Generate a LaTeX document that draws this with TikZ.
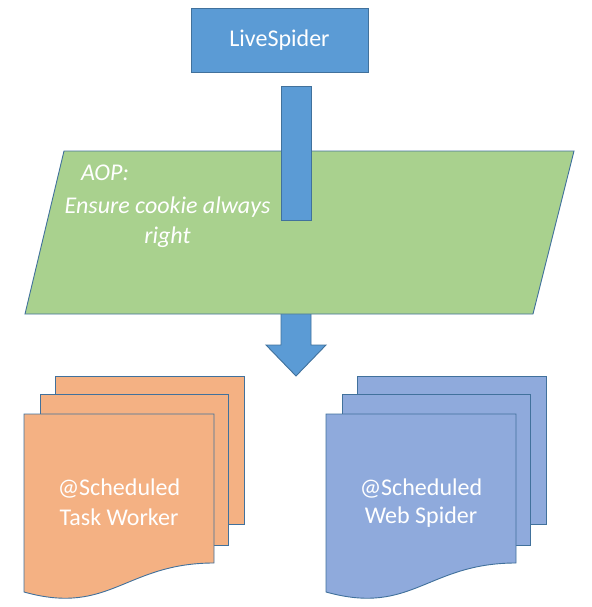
\documentclass[tikz,border=0pt]{standalone}
\usepackage{fontspec}
\setmainfont{Carlito}
\definecolor{lsblue}{HTML}{5B9BD5}
\definecolor{edgeblue}{HTML}{41719C}
\definecolor{aopgreen}{HTML}{A9D18E}
\definecolor{docorange}{HTML}{F4B183}
\definecolor{docblue}{HTML}{8FAADC}
\begin{document}
\begin{tikzpicture}[x=1pt,y=-1pt,
  box/.style={fill=lsblue,draw=edgeblue,line width=0.9pt},
  para/.style={fill=aopgreen,draw=edgeblue,line width=0.9pt},
  page/.style={draw=edgeblue,line width=0.9pt},
  txt/.style={text=white,font=\fontsize{24}{28}\selectfont,inner sep=0pt},
  itxt/.style={txt,font=\fontsize{24}{30}\selectfont\itshape,align=center}]
\useasboundingbox (0,0) rectangle (591,607);
% top box
\draw[box] (191,8) rectangle (368,72);
\node[txt] (live) at (279.5,40) {LiveSpider};
% down arrow below the parallelogram
\draw[box] (281,312) -- (311,312) -- (311,345) -- (326,345) -- (296,376)
  -- (266,345) -- (281,345) -- cycle;
% parallelogram
\draw[para] (64,151) -- (574,151) -- (533,314) -- (25,314) -- cycle;
% bar from the box
\draw[box] (281,86) rectangle (311,220);
\node[itxt,anchor=west] (aop) at (81,173) {AOP:};
\node[itxt] (ensure) at (167.5,222) {Ensure cookie always\\right};
% documents
\foreach \dx/\col/\name/\la/\lb in {0/docorange/worker/@Scheduled/Task Worker,302/docblue/spider/@Scheduled/Web Spider}{
  \begin{scope}[xshift=\dx]
    \draw[page,fill=\col] (55,376) rectangle (244,524);
    \draw[page,fill=\col] (40,394) rectangle (228,545);
    \draw[page,fill=\col] (24,414) -- (214,414) -- (214,563)
      .. controls (125,563) and (110,616) .. (24,592) -- cycle;
    \node[txt] (\name a) at (119,489) {\la};
    \node[txt] (\name b) at (119,517) {\lb};
  \end{scope}
}
\end{tikzpicture}
\end{document}
